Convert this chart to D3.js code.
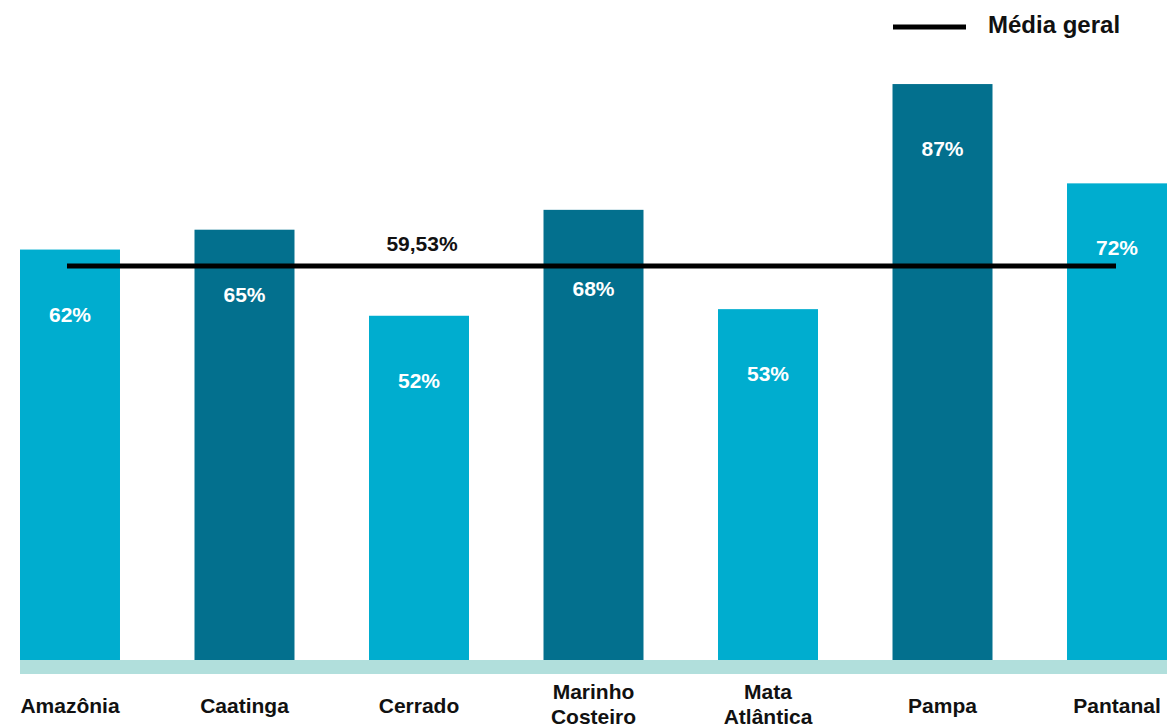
<!DOCTYPE html>
<html>
<head>
<meta charset="utf-8">
<script src="https://cdn.jsdelivr.net/npm/d3@7"></script>
<style>
  html, body { margin: 0; padding: 0; background: #ffffff; }
  svg { display: block; font-family: "Liberation Sans", Arial, sans-serif; }
</style>
</head>
<body>
<svg id="chart" width="1167" height="724"></svg>
<script>
// Biomes and their percentages
const categories = ["Amazônia", "Caatinga", "Cerrado", "Marinho Costeiro", "Mata Atlântica", "Pampa", "Pantanal"];
const tickLabels = [["Amazônia"], ["Caatinga"], ["Cerrado"], ["Marinho", "Costeiro"], ["Mata", "Atlântica"], ["Pampa"], ["Pantanal"]];
const values = [62, 65, 52, 68, 53, 87, 72];
const overallMean = 59.53;
const meanLabel = "59,53%";
const legendLabel = "Média geral";

const W = 1167, H = 724;
const svg = d3.select("#chart");

const x = d3.scaleBand()
  .domain(categories)
  .range([20, 1167])
  .paddingInner(0.427)
  .paddingOuter(0);

const y = d3.scaleLinear()
  .domain([0, 100])
  .range([660, -2]);

const colour = i => (i % 2 === 0 ? "#00adcf" : "#03708e");

// baseline strip under the bars
svg.append("rect")
  .attr("x", x.range()[0])
  .attr("y", y(0))
  .attr("width", x.range()[1] - x.range()[0])
  .attr("height", 14)
  .attr("fill", "#b1dfdc");

// bars
svg.selectAll("rect.bar")
  .data(values)
  .join("rect")
  .attr("class", "bar")
  .attr("x", (d, i) => x(categories[i]))
  .attr("y", d => y(d))
  .attr("width", x.bandwidth())
  .attr("height", d => y(0) - y(d))
  .attr("fill", (d, i) => colour(i));

// mean line
const meanY = y(overallMean);
const cx = c => x(c) + x.bandwidth() / 2;
svg.append("line")
  .attr("x1", cx(categories[0]) - 3)
  .attr("x2", cx(categories[categories.length - 1]) - 1)
  .attr("y1", meanY)
  .attr("y2", meanY)
  .attr("stroke", "#000")
  .attr("stroke-width", 5);

// value labels inside the bars (moved below the mean line when they would cross it)
svg.selectAll("text.val")
  .data(values)
  .join("text")
  .attr("class", "val")
  .attr("x", (d, i) => cx(categories[i]))
  .attr("y", d => {
    let b = y(d) + 72;
    if (b - 15 < meanY + 3 && b > meanY - 3) b = meanY + 30;
    return b;
  })
  .attr("text-anchor", "middle")
  .attr("fill", "#ffffff")
  .attr("font-weight", "bold")
  .attr("font-size", 21)
  .text(d => d + "%");

// mean value label
svg.append("text")
  .attr("x", cx(categories[2]) + 3)
  .attr("y", meanY - 15)
  .attr("text-anchor", "middle")
  .attr("fill", "#111")
  .attr("font-weight", "bold")
  .attr("font-size", 21)
  .text(meanLabel);

// category axis
const axis = svg.append("g")
  .attr("transform", `translate(0, ${y(0)})`)
  .call(d3.axisBottom(x).tickSize(0).tickPadding(0));
axis.select(".domain").remove();
axis.selectAll(".tick text").each(function (d, i) {
  const lines = tickLabels[i];
  const n = lines.length;
  const t = d3.select(this)
    .attr("y", 0)
    .attr("dy", null)
    .attr("fill", "#111")
    .attr("font-weight", "bold")
    .attr("font-size", 21)
    .attr("font-family", "Liberation Sans, Arial, sans-serif")
    .text(null);
  lines.forEach((ln, j) => {
    t.append("tspan")
      .attr("x", 0)
      .attr("y", 53 + (j - (n - 1)) * 25 + (n - 1) * 11)
      .text(ln);
  });
});

// legend
const lg = svg.append("g");
lg.append("line")
  .attr("x1", 893).attr("x2", 966)
  .attr("y1", 27).attr("y2", 27)
  .attr("stroke", "#000")
  .attr("stroke-width", 5);
lg.append("text")
  .attr("x", 988)
  .attr("y", 33)
  .attr("fill", "#111")
  .attr("font-weight", "bold")
  .attr("font-size", 24)
  .text(legendLabel);
</script>
</body>
</html>
